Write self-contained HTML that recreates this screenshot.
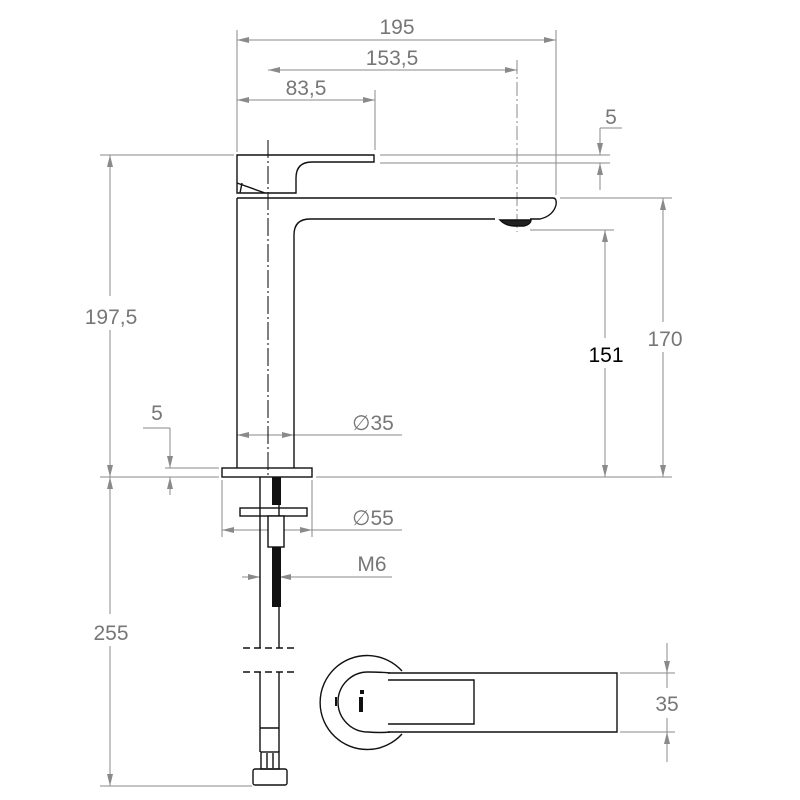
<!DOCTYPE html>
<html><head><meta charset="utf-8"><style>
html,body{margin:0;padding:0;background:#fff}
svg{display:block}
text{font-family:"Liberation Sans",sans-serif;font-size:21px;fill:#777}
</style></head><body>
<svg width="800" height="800" viewBox="0 0 800 800" xmlns="http://www.w3.org/2000/svg">
<defs>
<marker id="a" viewBox="0 0 12 6" refX="12" refY="3" markerWidth="12" markerHeight="6" markerUnits="userSpaceOnUse" orient="auto-start-reverse">
<path d="M0,0 L12,3 L0,6 z" fill="#8a8a8a"/></marker>
</defs>
<g stroke="#8a8a8a" stroke-width="1" fill="none">
<line x1="237" y1="30" x2="237" y2="152"/>
<line x1="556" y1="30" x2="556" y2="195"/>
<line x1="375" y1="90" x2="375" y2="150"/>
<line x1="237" y1="40" x2="556" y2="40" marker-start="url(#a)" marker-end="url(#a)"/>
<line x1="268" y1="70" x2="517" y2="70" marker-start="url(#a)" marker-end="url(#a)"/>
<line x1="237" y1="100" x2="375" y2="100" marker-start="url(#a)" marker-end="url(#a)"/>
<line x1="517" y1="60" x2="517" y2="232" stroke-dasharray="14,3,2,3"/>
<line x1="380" y1="155" x2="610" y2="155"/>
<line x1="380" y1="163" x2="610" y2="163"/>
<line x1="600" y1="128" x2="600" y2="155" marker-end="url(#a)"/>
<line x1="600" y1="190" x2="600" y2="163" marker-end="url(#a)"/>
<line x1="600" y1="128" x2="622" y2="128"/>
<line x1="560" y1="198" x2="672" y2="198"/>
<line x1="530" y1="230" x2="614" y2="230"/>
<line x1="316" y1="477" x2="672" y2="477"/>
<line x1="663" y1="198" x2="663" y2="322" marker-start="url(#a)"/>
<line x1="663" y1="352" x2="663" y2="477" marker-end="url(#a)"/>
<line x1="605" y1="230" x2="605" y2="338" marker-start="url(#a)"/>
<line x1="605" y1="368" x2="605" y2="477" marker-end="url(#a)"/>
<line x1="100" y1="155" x2="234" y2="155"/>
<line x1="100" y1="477" x2="219" y2="477"/>
<line x1="110" y1="155" x2="110" y2="296" marker-start="url(#a)"/>
<line x1="110" y1="330" x2="110" y2="477" marker-end="url(#a)"/>
<line x1="110" y1="477" x2="110" y2="614" marker-start="url(#a)"/>
<line x1="110" y1="646" x2="110" y2="786" marker-end="url(#a)"/>
<line x1="100" y1="786" x2="252" y2="786"/>
<line x1="165" y1="468" x2="219" y2="468"/>
<line x1="143" y1="428" x2="170" y2="428"/>
<line x1="170" y1="428" x2="170" y2="468" marker-end="url(#a)"/>
<line x1="170" y1="495" x2="170" y2="477" marker-end="url(#a)"/>
<line x1="237" y1="435" x2="294" y2="435" marker-start="url(#a)" marker-end="url(#a)"/>
<line x1="294" y1="435" x2="402" y2="435"/>
<line x1="222" y1="480" x2="222" y2="537"/>
<line x1="312" y1="480" x2="312" y2="537"/>
<line x1="222" y1="530" x2="312" y2="530" marker-start="url(#a)" marker-end="url(#a)"/>
<line x1="312" y1="530" x2="402" y2="530"/>
<line x1="242" y1="577" x2="260" y2="577" marker-end="url(#a)"/>
<line x1="296" y1="577" x2="279" y2="577" marker-end="url(#a)"/>
<line x1="296" y1="577" x2="392" y2="577"/>
<line x1="620" y1="673" x2="675" y2="673"/>
<line x1="620" y1="732" x2="675" y2="732"/>
<line x1="667" y1="643" x2="667" y2="673" marker-end="url(#a)"/>
<line x1="667" y1="762" x2="667" y2="732" marker-end="url(#a)"/>
<line x1="667" y1="673" x2="667" y2="688"/>
<line x1="667" y1="718" x2="667" y2="732"/>
</g>
<line x1="268" y1="140" x2="268" y2="478" stroke="#000" stroke-width="1" stroke-dasharray="18,3,2,3"/>
<g stroke="#111" stroke-width="1.4" fill="none">
<path d="M237,155 L374,155 L374,162 L312,162 Q296,162 296,178 L296,193 L237,193 Z"/>
<path d="M237,183 L265,193"/>
<line x1="242" y1="183" x2="240" y2="193"/>
<path d="M237,198 L553,198 Q557,198 556,205 Q553,216 540,219 L530,219"/>
<path d="M237,198 L237,468"/>
<path d="M294,468 L294,235 Q294,219 310,219 L495,219"/>
<path d="M500,220 Q506,226 514,226 L524,226 Q531,224 531,220 Z" fill="#222"/>
<rect x="222" y="468" width="90" height="9"/>
<line x1="260" y1="477" x2="260" y2="648"/>
<line x1="279" y1="477" x2="279" y2="648"/>
<rect x="240" y="508" width="67" height="8"/>
<rect x="268" y="516" width="16" height="31" fill="#fff"/>
<line x1="243" y1="648" x2="297" y2="648" stroke-dasharray="7,4"/>
<line x1="243" y1="672" x2="297" y2="672" stroke-dasharray="7,4"/>
<line x1="260" y1="672" x2="260" y2="728"/>
<line x1="279" y1="672" x2="279" y2="728"/>
<line x1="260" y1="728" x2="279" y2="728"/>
<path d="M260,728 L260,752 M279,728 L279,752"/>
<rect x="261" y="752" width="18" height="17"/>
<line x1="267" y1="753" x2="267" y2="768"/>
<line x1="273" y1="753" x2="273" y2="768"/>
<rect x="253" y="769" width="34" height="16" rx="2"/>
<!-- top view -->
<path d="M402,671 A47,47 0 1 0 402,734"/>
<path d="M388,673 L617,673 L617,732 L388,732"/>
<path d="M390,673 Q380,672 368,672 A30,30 0 0 0 368,732 Q380,733 390,732"/>
<path d="M388,680 L474,680 L474,724 L388,724"/>
</g>
<rect x="272" y="477" width="9" height="28" fill="#111"/>
<rect x="272" y="547" width="9" height="60" fill="#111"/>
<rect x="360" y="690" width="4" height="4" fill="#111"/>
<rect x="359" y="697" width="4" height="15" fill="#111"/>
<rect x="335" y="697" width="2" height="9" fill="#111"/>
<text x="397" y="34" text-anchor="middle">195</text>
<text x="392" y="65" text-anchor="middle">153,5</text>
<text x="306" y="95" text-anchor="middle">83,5</text>
<text x="611" y="124" text-anchor="middle">5</text>
<text x="111" y="324" text-anchor="middle">197,5</text>
<text x="665" y="346" text-anchor="middle">170</text>
<text x="606" y="362" text-anchor="middle" style="fill:#000">151</text>
<text x="157" y="420" text-anchor="middle">5</text>
<text x="373" y="430" text-anchor="middle">∅35</text>
<text x="373" y="525" text-anchor="middle">∅55</text>
<text x="372" y="571" text-anchor="middle">M6</text>
<text x="111" y="640" text-anchor="middle">255</text>
<text x="667" y="711" text-anchor="middle">35</text>
</svg>
</body></html>
